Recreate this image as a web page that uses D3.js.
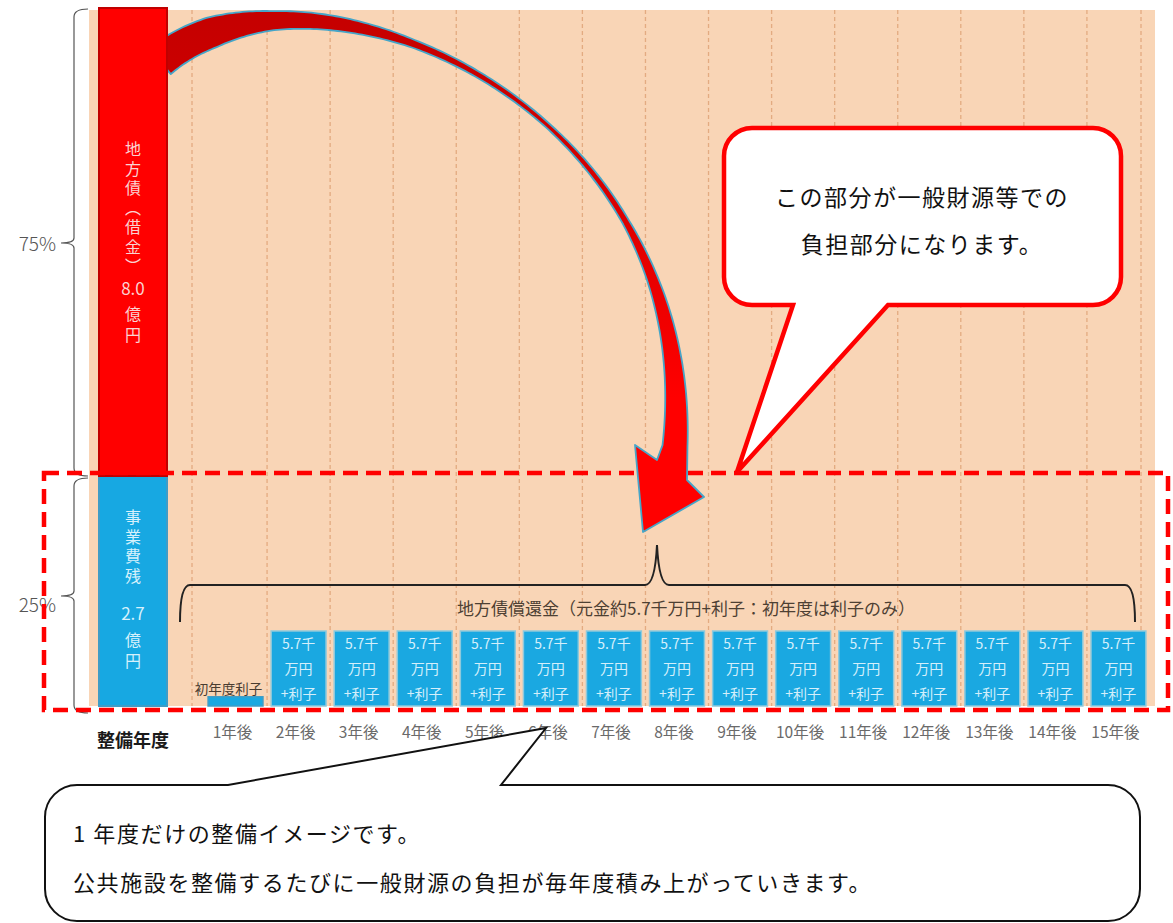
<!DOCTYPE html>
<html lang="ja">
<head>
<meta charset="utf-8">
<title>地方債償還イメージ</title>
<script src="https://cdn.jsdelivr.net/npm/d3@7"></script>
<style>
  html, body { margin: 0; padding: 0; background: #ffffff; }
  svg { display: block; }
  text { font-family: "Noto Sans CJK JP", "Noto Sans", sans-serif; }
  .vert { writing-mode: vertical-rl; }
</style>
</head>
<body>
<script>
// ---- data ----------------------------------------------------------------
const mainCategory = "整備年度";
const yearLabels = ["1年後", "2年後", "3年後", "4年後", "5年後", "6年後", "7年後", "8年後",
                    "9年後", "10年後", "11年後", "12年後", "13年後", "14年後", "15年後"];
// funding of the facility (億円): stacked bottom -> top
const fundingKeys   = ["事業費残", "地方債（借金）"];
const fundingValues = [2.7, 8.0];
// yearly repayment of the bond (億円)
const principalValues = [0, 0.57, 0.57, 0.57, 0.57, 0.57, 0.57, 0.57, 0.57, 0.57, 0.57, 0.57, 0.57, 0.57, 0.57];
const interestValues  = [0.08, 0.08, 0.08, 0.08, 0.08, 0.08, 0.08, 0.08, 0.08, 0.08, 0.08, 0.08, 0.08, 0.08, 0.08];

// ---- setup ---------------------------------------------------------------
const W = 1173, H = 923;
const svg = d3.select("body").append("svg").attr("width", W).attr("height", H);
const defs = svg.append("defs");

const total = d3.sum(fundingValues);
const stackTop = Array.from(d3.cumsum(fundingValues));   // [2.7, 10.7]
const stackBase = [0, stackTop[0]];

// schematic (piecewise) value scale for the funding column
const yMain = d3.scaleLinear().domain([0, stackTop[0], total]).range([706, 476, 8]);
// repayment bars use their own schematic scale
const yRepay = d3.scaleLinear().domain([0, 0.65]).range([706, 631]);

const xMain = d3.scaleBand().domain([mainCategory]).range([99, 167]).padding(0);
const xRepay = d3.scaleBand().domain(yearLabels).range([204, 1150])
  .paddingInner(0.13).paddingOuter(0.065);

// ---- background panel & gridlines ----------------------------------------
svg.append("rect").attr("x", 89).attr("y", 10).attr("width", 1066).attr("height", 696)
  .attr("fill", "#f9d5b6");

const step = xRepay.step();
const boundaries = yearLabels.map(d => xRepay(d) + xRepay.bandwidth() / 2 - step / 2)
  .concat([xRepay(yearLabels[yearLabels.length - 1]) + xRepay.bandwidth() / 2 + step / 2 - 9]);
boundaries[0] -= 12;
svg.append("g").selectAll("line").data(boundaries).join("line")
  .attr("x1", d => d).attr("x2", d => d).attr("y1", 10).attr("y2", 706)
  .attr("stroke", "#e0a478").attr("stroke-width", 1.3).attr("stroke-dasharray", "4,3")
  .attr("opacity", 0.85);

// ---- curved arrow from the bond column to the repayments -----------------
const grad = defs.append("linearGradient").attr("id", "arrowFill")
  .attr("gradientUnits", "userSpaceOnUse").attr("x1", 0).attr("y1", 0).attr("x2", 0).attr("y2", 530);
grad.append("stop").attr("offset", "0").attr("stop-color", "#c40000");
grad.append("stop").attr("offset", "0.3").attr("stop-color", "#d20000");
grad.append("stop").attr("offset", "0.75").attr("stop-color", "#ff0000");
grad.append("stop").attr("offset", "1").attr("stop-color", "#ff0000");

// centre line: one cubic Bézier; body width varies along it
const B = [[160, 61], [310, -62], [700, 100], [675, 446]];
const widthAt = d3.scaleLinear()
  .domain([0, 0.1, 0.2, 0.3, 0.4, 0.5, 0.6, 0.75, 0.82, 0.9, 1])
  .range([34, 31, 19, 14, 8, 6, 5, 7, 11, 17, 25]);
function bez(t) {
  const u = 1 - t;
  const c = [u * u * u, 3 * u * u * t, 3 * u * t * t, t * t * t];
  const dc = [-3 * u * u, 3 * u * u - 6 * u * t, 6 * u * t - 3 * t * t, 3 * t * t];
  return {
    x: d3.sum(B, (p, i) => c[i] * p[0]), y: d3.sum(B, (p, i) => c[i] * p[1]),
    dx: d3.sum(B, (p, i) => dc[i] * p[0]), dy: d3.sum(B, (p, i) => dc[i] * p[1])
  };
}
const N = 200;
const outer = [], inner = [];
d3.range(N + 1).forEach(i => {
  const t = i / N, p = bez(t), w = widthAt(t);
  const len = Math.hypot(p.dx, p.dy);
  const nx = p.dy / len, ny = -p.dx / len;
  outer.push([p.x + nx * w / 2, p.y + ny * w / 2]);
  inner.push([p.x - nx * w / 2, p.y - ny * w / 2]);
});
const head = [[687, 480], [704, 497], [643, 532], [635, 445], [657, 460]];
const arrowPts = outer.concat(head, inner.slice().reverse());
svg.append("path").attr("d", d3.line()(arrowPts) + "Z")
  .attr("fill", "url(#arrowFill)").attr("stroke", "#46a5c8").attr("stroke-width", 1.8)
  .attr("stroke-linejoin", "round");

// ---- funding column ------------------------------------------------------
const fundingStyle = [
  { fill: "#17a8e2", stroke: "#3f9cc6" },
  { fill: "#ff0000", stroke: "#c00000" }
];
svg.append("g").selectAll("rect").data(fundingValues).join("rect")
  .attr("x", xMain(mainCategory))
  .attr("width", xMain.bandwidth())
  .attr("y", (d, i) => yMain(stackTop[i]))
  .attr("height", (d, i) => yMain(stackBase[i]) - yMain(stackTop[i]))
  .attr("fill", (d, i) => fundingStyle[i].fill)
  .attr("stroke", (d, i) => fundingStyle[i].stroke)
  .attr("stroke-width", 2);

const cx = xMain(mainCategory) + xMain.bandwidth() / 2;
// labels written top-to-bottom inside the column; the amount stays horizontal
function columnLabel(g, name, value, y0, yValue, yUnit, color) {
  g.append("text").attr("class", "vert").attr("x", cx).attr("y", y0)
    .attr("font-size", 16).attr("letter-spacing", 3.5).attr("fill", color).text(name);
  g.append("text").attr("x", cx).attr("y", yValue)
    .attr("text-anchor", "middle").attr("dominant-baseline", "central")
    .attr("font-size", 17).attr("fill", color).text(value.toFixed(1));
  g.append("text").attr("class", "vert").attr("x", cx).attr("y", yUnit)
    .attr("font-size", 16).attr("letter-spacing", 4.5).attr("fill", color).text("億円");
}
columnLabel(svg.append("g"), fundingKeys[1], fundingValues[1], 141, 287, 306, "#fbd2d2");
columnLabel(svg.append("g"), fundingKeys[0], fundingValues[0], 509, 612, 632, "#d6f1fc");

// ---- share braces on the left --------------------------------------------
const shares = fundingValues.map(v => Math.round(v / total * 100) + "%");
const braceX = 74;
function braceLeft(y0, y1, tipY) {
  return `M88,${y0} Q${braceX},${y0} ${braceX},${y0 + 8} L${braceX},${tipY - 5}` +
         ` Q${braceX},${tipY} ${braceX - 13},${tipY} Q${braceX},${tipY} ${braceX},${tipY + 5}` +
         ` L${braceX},${y1 - 8} Q${braceX},${y1} 88,${y1}`;
}
const braceSpans = [
  { y0: yMain(stackTop[1]) + 1, y1: yMain(stackBase[1]), tip: 243, ty: 242, label: shares[1] },
  { y0: yMain(stackTop[0]) + 2, y1: yMain(0) + 7, tip: 596, ty: 603, label: shares[0] }
];
const bg = svg.append("g");
bg.selectAll("path").data(braceSpans).join("path")
  .attr("d", d => braceLeft(d.y0, d.y1, d.tip))
  .attr("fill", "none").attr("stroke", "#555").attr("stroke-width", 1.2);
bg.selectAll("text").data(braceSpans).join("text")
  .attr("x", 56).attr("y", d => d.ty).attr("text-anchor", "end").attr("dominant-baseline", "central")
  .attr("font-size", 19).attr("font-weight", 300).attr("fill", "#555").text(d => d.label);

// ---- repayment bars ------------------------------------------------------
const repay = yearLabels.map((y, i) => ({ year: y, principal: principalValues[i], interest: interestValues[i] }));
const rg = svg.append("g");
rg.selectAll("rect").data(repay).join("rect")
  .attr("x", d => xRepay(d.year))
  .attr("width", xRepay.bandwidth())
  .attr("y", d => yRepay(d.principal + d.interest))
  .attr("height", d => yRepay(0) - yRepay(d.principal + d.interest))
  .attr("fill", "#1aa8e1")
  .attr("stroke", d => d.principal > 0 ? "#8ec9dc" : "#3f9cc6")
  .attr("stroke-width", 1.5);

const withPrincipal = repay.filter(d => d.principal > 0);
const barLines = d => [(d.principal * 10).toFixed(1) + "千", "万円", "+利子"];
const barOffsets = [12, 37, 62];
rg.selectAll("g.lbl").data(withPrincipal).join("g").attr("class", "lbl")
  .selectAll("text").data(d => barLines(d).map((t, k) => ({ t, k, d }))).join("text")
  .attr("x", o => xRepay(o.d.year) + xRepay.bandwidth() / 2)
  .attr("y", o => yRepay(o.d.principal + o.d.interest) + barOffsets[o.k])
  .attr("text-anchor", "middle").attr("dominant-baseline", "central")
  .attr("font-size", 14).attr("fill", "#d4effb").text(o => o.t);

const firstYear = repay.filter(d => d.principal === 0);
rg.selectAll("text.first").data(firstYear).join("text").attr("class", "first")
  .attr("x", d => xRepay(d.year) + xRepay.bandwidth() / 2 - 7)
  .attr("y", d => yRepay(d.interest) - 9)
  .attr("text-anchor", "middle").attr("dominant-baseline", "central")
  .attr("font-size", 13.5).attr("fill", "#4a3c30").text("初年度利子");

// ---- brace over the repayments -------------------------------------------
const bx0 = 180, bx1 = 1135, by = 585, tipX = 657;
svg.append("path")
  .attr("d", `M${bx0},622 Q${bx0},${by} ${bx0 + 10},${by} L${tipX - 12},${by}` +
             ` Q${tipX - 2},${by} ${tipX},545 Q${tipX + 2},${by} ${tipX + 12},${by}` +
             ` L${bx1 - 10},${by} Q${bx1},${by} ${bx1},622`)
  .attr("fill", "none").attr("stroke", "#222").attr("stroke-width", 2);
svg.append("text").attr("x", 686).attr("y", 607)
  .attr("text-anchor", "middle").attr("dominant-baseline", "central")
  .attr("font-size", 17).attr("fill", "#4d4033")
  .text(`地方債償還金（元金約${(principalValues[1] * 10).toFixed(1)}千万円+利子：初年度は利子のみ）`);

// ---- x axis labels -------------------------------------------------------
svg.append("g").selectAll("text").data(yearLabels).join("text")
  .attr("x", d => xRepay(d) + xRepay.bandwidth() / 2 - 3)
  .attr("y", 731)
  .attr("text-anchor", "middle").attr("dominant-baseline", "central")
  .attr("font-size", 15.5).attr("fill", "#6a6a6a").text(d => d);
svg.append("text").attr("x", cx).attr("y", 739)
  .attr("text-anchor", "middle").attr("dominant-baseline", "central")
  .attr("font-size", 18).attr("font-weight", 700).attr("fill", "#1a1a1a").text(mainCategory);

// ---- dashed frame around the general-fund burden -------------------------
svg.append("rect").attr("x", 44).attr("y", yMain(stackTop[0]) - 3)
  .attr("width", 1124).attr("height", 710 - (yMain(stackTop[0]) - 3))
  .attr("fill", "none").attr("stroke", "#ff0000").attr("stroke-width", 4.5)
  .attr("stroke-dasharray", "15,8");

// ---- callouts ------------------------------------------------------------
function calloutBottomTail(x0, y0, x1, y1, r, ta, tip, tb) {
  return `M${x0 + r},${y0} H${x1 - r} A${r},${r} 0 0 1 ${x1},${y0 + r} V${y1 - r}` +
         ` A${r},${r} 0 0 1 ${x1 - r},${y1} H${tb} L${tip[0]},${tip[1]} L${ta},${y1}` +
         ` H${x0 + r} A${r},${r} 0 0 1 ${x0},${y1 - r} V${y0 + r} A${r},${r} 0 0 1 ${x0 + r},${y0} Z`;
}
function calloutTopTail(x0, y0, x1, y1, r, ta, tip, tb) {
  return `M${x0 + r},${y0} H${ta} L${tip[0]},${tip[1]} L${tb},${y0} H${x1 - r}` +
         ` A${r},${r} 0 0 1 ${x1},${y0 + r} V${y1 - r} A${r},${r} 0 0 1 ${x1 - r},${y1}` +
         ` H${x0 + r} A${r},${r} 0 0 1 ${x0},${y1 - r} V${y0 + r} A${r},${r} 0 0 1 ${x0 + r},${y0} Z`;
}

svg.append("path")
  .attr("d", calloutBottomTail(724, 128, 1121, 305, 28, 793, [737, yMain(stackTop[0]) - 4], 888))
  .attr("fill", "#ffffff").attr("stroke", "#ff0000").attr("stroke-width", 4.5)
  .attr("stroke-linejoin", "miter");
const topNote = ["この部分が一般財源等での", "負担部分になります。"];
svg.append("g").selectAll("text").data(topNote).join("text")
  .attr("x", 922).attr("y", (d, i) => 196 + i * 47)
  .attr("text-anchor", "middle").attr("dominant-baseline", "central")
  .attr("font-size", 23).attr("letter-spacing", 1.5).attr("fill", "#111").text(d => d);

svg.append("path")
  .attr("d", calloutTopTail(45, 785, 1140, 921, 32, 228, [546, 728], 501))
  .attr("fill", "#ffffff").attr("stroke", "#111").attr("stroke-width", 2);
const bottomNote = ["1 年度だけの整備イメージです。", "公共施設を整備するたびに一般財源の負担が毎年度積み上がっていきます。"];
svg.append("g").selectAll("text").data(bottomNote).join("text")
  .attr("x", 73).attr("y", (d, i) => 832 + i * 49)
  .attr("dominant-baseline", "central")
  .attr("font-size", 22).attr("letter-spacing", 1.6).attr("fill", "#111").text(d => d);
</script>
</body>
</html>
